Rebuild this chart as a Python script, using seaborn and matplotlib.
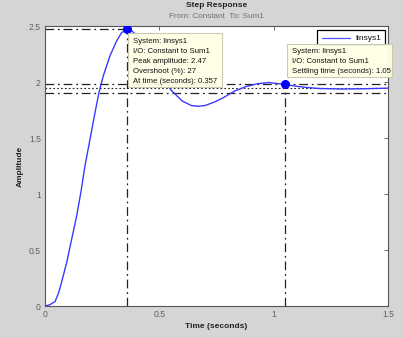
import matplotlib
matplotlib.use("Agg")
import matplotlib.pyplot as plt
from matplotlib.patches import Rectangle
import seaborn as sns
import pandas as pd

# ---- data ----
time_s = [0, 0.02, 0.044, 0.06, 0.073, 0.095, 0.117, 0.139, 0.157, 0.175, 0.197,
          0.219, 0.236, 0.255, 0.284, 0.313, 0.335, 0.357, 0.38, 0.41, 0.45, 0.50,
          0.55, 0.60, 0.64, 0.67, 0.70, 0.74, 0.78, 0.83, 0.88, 0.93, 0.98, 1.05,
          1.10, 1.15, 1.20, 1.30, 1.40, 1.50]
amplitude = [0, 0.01, 0.04, 0.12, 0.216, 0.39, 0.60, 0.81, 1.017, 1.254, 1.49,
             1.73, 1.906, 2.055, 2.233, 2.366, 2.44, 2.47, 2.455, 2.40, 2.28, 2.09,
             1.93, 1.83, 1.79, 1.783, 1.79, 1.82, 1.86, 1.92, 1.96, 1.985, 1.995, 1.978,
             1.962, 1.95, 1.942, 1.937, 1.94, 1.945]

peak_time = 0.357
peak_amp = 2.47
overshoot = 27
settle_time = 1.05
settle_amp = 1.978
final_value = 1.945
band_hi = 1.984
band_lo = 1.906

x_ticks = [0, 0.5, 1, 1.5]
x_ticklabels = ["0", "0.5", "1", "1.5"]
y_ticks = [0, 0.5, 1, 1.5, 2, 2.5]
y_ticklabels = ["0", "0.5", "1", "1.5", "2", "2.5"]

series_name = "linsys1"
tip1_lines = ["System: linsys1", "I/O: Constant to Sum1",
              f"Peak amplitude: {peak_amp}", f"Overshoot (%): {overshoot}",
              f"At time (seconds): {peak_time}"]
tip2_lines = ["System: linsys1", "I/O: Constant to Sum1",
              f"Settling time (seconds): {settle_time}"]

# ---- figure ----
sns.set_style("white")
plt.rcParams["font.family"] = ["Liberation Sans", "DejaVu Sans"]

W, H = 403, 338
fig = plt.figure(figsize=(W / 100, H / 100), dpi=100)
fig.patch.set_facecolor("#d5d5d5")

def fx(px):
    return px / W

def fy(py):
    return 1 - py / H

ax = fig.add_axes([fx(45), fy(306), (388 - 45) / W, (306 - 26) / H])
ax.set_facecolor("white")

df = pd.DataFrame({"t": time_s, "a": amplitude, "s": series_name})
sns.lineplot(data=df, x="t", y="a", hue="s", palette=["#3a3aff"], lw=1.0,
             ax=ax, legend=False, zorder=3)

dashdot = (0, (7, 3, 1.5, 3))
kc = "#222222"
ax.axhline(band_hi, color=kc, lw=0.9, ls=dashdot, zorder=2)
ax.axhline(band_lo, color=kc, lw=0.9, ls=dashdot, zorder=2)
ax.axhline(final_value, color=kc, lw=0.8, ls=(0, (1.5, 2)), zorder=2)
ax.plot([0, peak_time], [peak_amp, peak_amp], color=kc, lw=0.9, ls=dashdot, zorder=2)
ax.plot([peak_time, peak_time], [0, peak_amp], color=kc, lw=0.9, ls=dashdot, zorder=2)
ax.plot([settle_time, settle_time], [0, settle_amp], color=kc, lw=0.9, ls=dashdot, zorder=2)
ax.plot([peak_time, settle_time], [peak_amp, settle_amp], ls="none", marker="o",
        ms=5.5, color="#0000ff", zorder=4)

ax.set_xlim(0, 1.5)
ax.set_ylim(0, 2.5)
ax.set_xticks(x_ticks)
ax.set_xticklabels(x_ticklabels)
ax.set_yticks(y_ticks)
ax.set_yticklabels(y_ticklabels)
ax.tick_params(direction="in", length=3, width=0.6, color="#555555",
               labelsize=6.2, labelcolor="#606060", top=True, right=True, pad=3)
for sp in ax.spines.values():
    sp.set_color("#555555")
    sp.set_linewidth(0.8)
ax.set_xlabel("")
ax.set_ylabel("")

fig.text(fx(216.5), fy(5.5), "Step Response", ha="center", va="center",
         fontsize=6.0, fontweight="bold", color="#222222")
fig.text(fx(216.5), fy(16), "From: Constant  To: Sum1", ha="center", va="center",
         fontsize=5.9, color="#707070")
fig.text(fx(216.5), fy(326.5), "Time (seconds)", ha="center", va="center",
         fontsize=6.0, fontweight="bold", color="#222222")
fig.text(fx(20), fy(166), "Amplitude", ha="center", va="center", rotation=90,
         fontsize=6.0, fontweight="bold", color="#222222")

# legend box
fig.patches.append(Rectangle((fx(316.7), fy(45)), (385 - 316.7) / W, 15 / H,
                             transform=fig.transFigure, facecolor="white",
                             edgecolor="black", lw=0.9, zorder=5))
fig.lines.append(plt.Line2D([fx(322), fx(350)], [fy(38), fy(38)],
                            transform=fig.transFigure, color="#5050ff", lw=0.9, zorder=6))
fig.text(fx(355.5), fy(38), series_name, ha="left", va="center", fontsize=6.0,
         color="#111111", zorder=6)

# data tips
def tip(x0, y0, x1, y1, lines, tx, ty0, dy):
    fig.patches.append(Rectangle((fx(x0), fy(y1)), (x1 - x0) / W, (y1 - y0) / H,
                                 transform=fig.transFigure, facecolor="#ffffe6",
                                 edgecolor="#c8c8b0", lw=0.8, alpha=0.95, zorder=5))
    for i, s in enumerate(lines):
        fig.text(fx(tx), fy(ty0 + i * dy), s, ha="left", va="center",
                 fontsize=5.6, color="#111111", zorder=6)

tip(127.7, 33, 221.7, 87.5, tip1_lines, 133, 41.7, 10)
tip(287, 44, 392, 76.5, tip2_lines, 292, 51.7, 10)

fig.savefig("out.png", dpi=100, facecolor=fig.get_facecolor())
